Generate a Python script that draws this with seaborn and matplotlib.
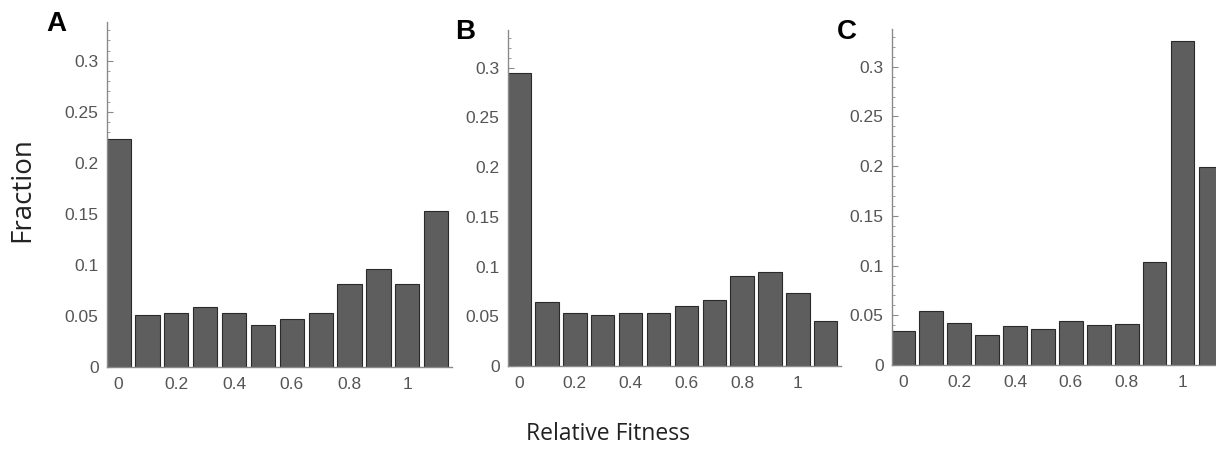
import numpy as np
import pandas as pd
import matplotlib
matplotlib.use("Agg")
import matplotlib.pyplot as plt
from matplotlib.ticker import MultipleLocator, FuncFormatter
import seaborn as sns

# 相対適応度のビン (中心値)
fitness_bins = [0.0, 0.1, 0.2, 0.3, 0.4, 0.5, 0.6, 0.7, 0.8, 0.9, 1.0, 1.1]

# 各パネルの割合
frac_A = [0.223, 0.051, 0.053, 0.059, 0.053, 0.041, 0.047, 0.053, 0.081, 0.096, 0.081, 0.153]
frac_B = [0.295, 0.064, 0.053, 0.051, 0.053, 0.053, 0.060, 0.066, 0.091, 0.095, 0.073, 0.045]
frac_C = [0.034, 0.054, 0.042, 0.030, 0.039, 0.036, 0.044, 0.040, 0.041, 0.104, 0.326, 0.199]

panel_labels = ["A", "B", "C"]
x_ticks = [0, 0.2, 0.4, 0.6, 0.8, 1]
y_ticks = [0, 0.05, 0.1, 0.15, 0.2, 0.25, 0.3]

sns.set_style("white")
plt.rcParams["font.family"] = ["Liberation Sans", "DejaVu Sans"]

W, H = 1216, 453
fig = plt.figure(figsize=(W / 100, H / 100), dpi=100)

# 軸の位置 (ピクセル: left, top, right, bottom)
boxes = [(107, 22, 452, 367), (508, 30, 841, 366), (892, 29, 1226, 365)]
label_pos = [(46, 24), (455, 32), (837, 32)]

bar_col = "#5e5e5e"
axis_col = "#8a8a8a"
tick_txt = "#555555"

def fmt(v, pos):
    s = f"{v:.2f}".rstrip("0").rstrip(".")
    return s

for i, frac in enumerate([frac_A, frac_B, frac_C]):
    l, t, r, b = boxes[i]
    ax = fig.add_axes([l / W, 1 - b / H, (r - l) / W, (b - t) / H])
    df = pd.DataFrame({"fitness": fitness_bins, "fraction": frac})
    sns.barplot(data=df, x="fitness", y="fraction", native_scale=True,
                color=bar_col, saturation=1, width=0.84,
                edgecolor="#2a2a2a", linewidth=0.8, ax=ax)
    ax.set_xlim(-0.04, 1.155)
    ax.set_ylim(0, 0.338)
    ax.set_xlabel("")
    ax.set_ylabel("")
    ax.set_xticks(x_ticks)
    ax.xaxis.set_minor_locator(MultipleLocator(0.1))
    ax.set_yticks(y_ticks)
    ax.yaxis.set_minor_locator(MultipleLocator(0.01))
    ax.xaxis.set_major_formatter(FuncFormatter(fmt))
    ax.yaxis.set_major_formatter(FuncFormatter(fmt))
    ax.tick_params(axis="both", which="both", direction="in", colors=axis_col,
                   labelcolor=tick_txt, labelsize=12.5, bottom=True, left=True)
    ax.tick_params(axis="x", which="major", length=3, width=1.2, pad=7)
    ax.tick_params(axis="x", which="minor", length=3, width=1.2)
    ax.tick_params(axis="y", which="major", length=4, width=0.8, pad=6)
    ax.tick_params(axis="y", which="minor", length=2, width=0.6)
    for side in ["top", "right"]:
        ax.spines[side].set_visible(False)
    for side in ["left", "bottom"]:
        ax.spines[side].set_color(axis_col)
        ax.spines[side].set_linewidth(1.0)
    ax.patch.set_alpha(0)
    fig.text(label_pos[i][0] / W, 1 - label_pos[i][1] / H, panel_labels[i],
             fontsize=20, fontweight="bold", ha="left", va="center", color="black")

fig.text(22 / W, 1 - 190 / H, "Fraction", rotation=90, fontsize=20,
         family=["Open Sans", "DejaVu Sans"], ha="center", va="center", color="#222222")
fig.text(608 / W, 1 - 434 / H, "Relative Fitness", fontsize=16.5,
         family=["Open Sans", "DejaVu Sans"], ha="center", va="center", color="#222222")

fig.savefig("out.png", dpi=100)
